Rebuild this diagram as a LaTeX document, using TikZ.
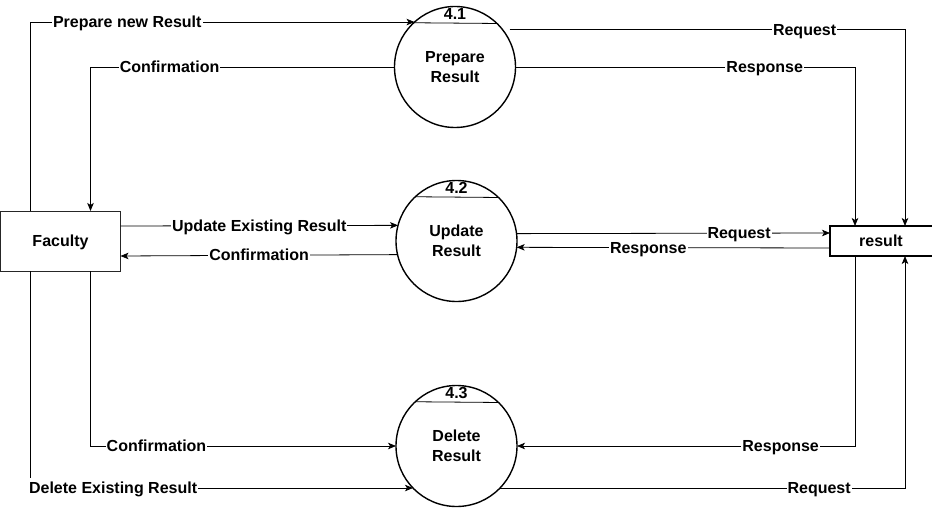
\documentclass[tikz,border=0pt]{standalone}
\usepackage{fontspec}
\setmainfont{Liberation Sans}
\usetikzlibrary{arrows.meta,calc}
\begin{document}
\begin{tikzpicture}[x=1pt,y=-1pt,
  every node/.style={font=\bfseries\fontsize{16}{20}\selectfont, inner sep=1pt},
  oneline/.style={text height=14.5pt, text depth=3.4pt},
  proc/.style={circle, draw=black, line width=1.4pt, minimum size=121pt, inner sep=0pt, outer sep=0pt, align=center},
  entity/.style={rectangle, oneline, draw=black!85, line width=0.9pt, minimum width=120pt, minimum height=60pt, inner sep=0pt, outer sep=0pt},
  store/.style={rectangle, oneline, minimum width=102pt, minimum height=30pt, inner sep=0pt, outer sep=0pt},
  flow/.style={draw=black, line width=0.8pt, -{Stealth[length=8pt,width=6.5pt,inset=2pt]}},
  lbl/.style={fill=white, oneline, inner sep=1pt}
]
\useasboundingbox (0,0) rectangle (932,508);

% entities and processes
\node[entity] (fac) at (60.5,241) {Faculty};
\node[proc] (c41) at (455,67) {Prepare\\Result};
\node[proc] (c42) at (456.5,241) {Update\\Result};
\node[proc] (c43) at (456.5,446) {Delete\\Result};
\node[store] (res) at (881,241) {result};
\draw[line width=1.6pt] (res.north east) -- (res.north west) -- (res.south west) -- (res.south east);

% process numbers
\draw[line width=0.8pt] (c41.133.3) -- (c41.46.7);
\draw[line width=0.8pt] (c42.133.3) -- (c42.46.7);
\draw[line width=0.8pt] (c43.133.3) -- (c43.46.7);
\node[oneline] (n41) at (455,13.5) {4.1};
\node[oneline] (n42) at (456.5,187.5) {4.2};
\node[oneline] (n43) at (456.5,392.5) {4.3};

% anchor helpers
\coordinate (facN1) at ($(fac.north west)!0.25!(fac.north east)$);
\coordinate (facN3) at ($(fac.north west)!0.75!(fac.north east)$);
\coordinate (facS1) at ($(fac.south west)!0.25!(fac.south east)$);
\coordinate (facS3) at ($(fac.south west)!0.75!(fac.south east)$);
\coordinate (facE1) at ($(fac.east)+(0,-15)$);
\coordinate (facE2) at ($(fac.east)+(0,15)$);
\coordinate (resN1) at ($(res.north west)+(25,0)$);
\coordinate (resN3) at ($(res.north west)+(75,0)$);
\coordinate (resS1) at ($(res.south west)+(25,0)$);
\coordinate (resS3) at ($(res.south west)+(75,0)$);
\coordinate (resW1) at ($(res.west)+(0,-8)$);
\coordinate (resW2) at ($(res.west)+(0,7)$);
\coordinate (c41req) at ($(c41.38)+(7,0)$);

% top process
\draw[flow] (facN1) |- node[lbl, pos=0.626] (l1) {Prepare new Result} (c41.132);
\draw[flow] (c41.west) -| node[lbl, pos=0.37] (l2) {Confirmation} (facN3);
\draw[flow] (c41req) -| node[lbl, pos=0.373] (l3) {Request} (resN3);
\draw[flow] (c41.east) -| node[lbl, pos=0.367] (l4) {Response} (resN1);

% middle process
\draw[flow] (facE1) -- node[lbl, pos=0.5] (l5) {Update Existing Result} (c42.165.6);
\draw[flow] (c42.193.4) -- node[lbl, pos=0.5] (l6) {Confirmation} (facE2);
\draw[flow] (c42.7.6) -- node[lbl, pos=0.71] (l7) {Request} (resW1);
\draw[flow] (resW2) -- node[lbl, pos=0.58] (l8) {Response} (c42.-6.6);

% bottom process
\draw[flow] (facS3) |- node[lbl, pos=0.608] (l9) {Confirmation} (c43.west);
\draw[flow] (facS1) |- node[lbl, pos=0.608] (l10) {Delete Existing Result} (c43.224);
\draw[flow] (resS1) |- node[lbl, pos=0.61] (l11) {Response} (c43.east);
\draw[flow] (c43.-44) -| node[lbl, pos=0.394] (l12) {Request} (resS3);
\end{tikzpicture}
\end{document}
